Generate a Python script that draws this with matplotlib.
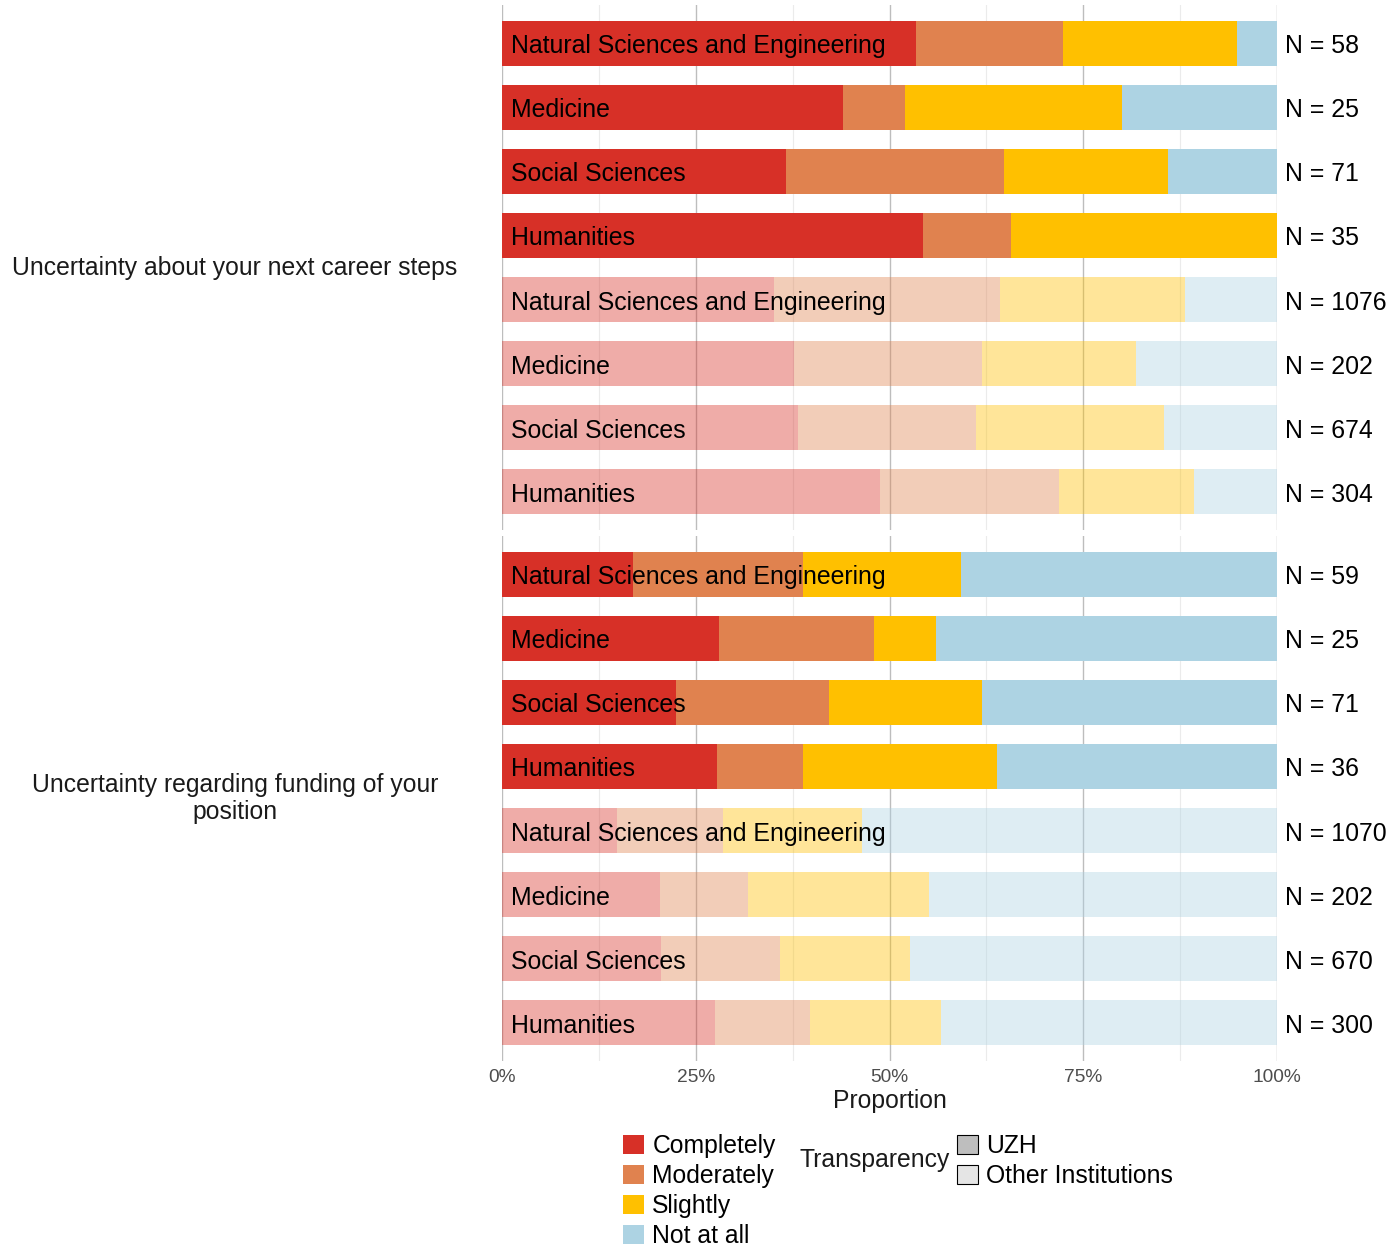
import matplotlib.pyplot as plt
from matplotlib.colors import to_rgba
from matplotlib.patches import Patch
from matplotlib.transforms import offset_copy

plt.rcParams["font.family"] = ["Liberation Sans", "DejaVu Sans"]

# -------------------------
# Data (percent of respondents)
# -------------------------

items = [
    "Uncertainty about your next career steps",
    "Uncertainty regarding funding of your\nposition",
]
fields = ["Natural Sciences and Engineering", "Medicine", "Social Sciences", "Humanities"]
institutions = ["UZH", "Other Institutions"]
levels = ["Completely", "Moderately", "Slightly", "Not at all"]

# rows: UZH (4 fields) then Other Institutions (4 fields)
career_completely = [53.4, 44.0, 36.6, 54.3, 35.1, 37.7, 38.2, 48.8]
career_moderately = [19.0, 8.0, 28.2, 11.4, 29.2, 24.2, 23.0, 23.1]
career_slightly = [22.4, 28.0, 21.1, 34.3, 23.8, 19.9, 24.2, 17.4]
career_not = [5.2, 20.0, 14.1, 0.0, 11.9, 18.2, 14.6, 10.7]
career_n = [58, 25, 71, 35, 1076, 202, 674, 304]

funding_completely = [16.9, 28.0, 22.5, 27.8, 14.8, 20.4, 20.5, 27.5]
funding_moderately = [22.0, 20.0, 19.7, 11.1, 13.7, 11.3, 15.4, 12.2]
funding_slightly = [20.3, 8.0, 19.7, 25.0, 18.0, 23.4, 16.7, 16.9]
funding_not = [40.8, 44.0, 38.1, 36.1, 53.5, 44.9, 47.4, 43.4]
funding_n = [59, 25, 71, 36, 1070, 202, 670, 300]

panels = [
    [career_completely, career_moderately, career_slightly, career_not, career_n],
    [funding_completely, funding_moderately, funding_slightly, funding_not, funding_n],
]

level_colors = ["#D73027", "#E0824F", "#FFC000", "#ADD3E3"]
inst_alpha = {"UZH": 1.0, "Other Institutions": 0.4}

row_fields = fields * 2
row_inst = [institutions[0]] * 4 + [institutions[1]] * 4

# -------------------------
# Plot
# -------------------------

W, H = 1390, 1246
fig = plt.figure(figsize=(W / 100, H / 100), dpi=100)

ax_top = fig.add_axes([502 / W, 1 - 530 / H, 775 / W, 525 / H])
ax_bot = fig.add_axes([502 / W, 1 - 1061 / H, 775 / W, 525 / H])
axes = [ax_top, ax_bot]

ypos = list(range(1, 9))
fs = 17.9

for ax, item, panel in zip(axes, items, panels):
    values = panel[:4]
    n_vals = panel[4]

    left = [0.0] * 8
    for level_vals, col in zip(values, level_colors):
        colors = [to_rgba(col, inst_alpha[inst]) for inst in row_inst]
        ax.barh(ypos, level_vals, left=left, height=0.7, color=colors, linewidth=0)
        left = [a + b for a, b in zip(left, level_vals)]

    label_tr = offset_copy(ax.transData, fig=fig, x=9, y=-3, units="dots")
    n_tr = offset_copy(ax.transData, fig=fig, x=8, y=-3, units="dots")
    for y, name, n in zip(ypos, row_fields, n_vals):
        ax.text(0, y, name, transform=label_tr, ha="left", va="center",
                fontsize=fs, color="black")
        ax.text(100, y, f"N = {n}", transform=n_tr, ha="left", va="center",
                fontsize=fs, color="black", clip_on=False)

    ax.text(-0.3445, 0.5, item, transform=ax.transAxes, ha="center", va="center",
            fontsize=17.8, color="#1A1A1A", multialignment="center", linespacing=1.12)

    ax.set_xlim(0, 100)
    ax.set_ylim(8.6, 0.4)
    ax.set_xticks([0, 25, 50, 75, 100])
    ax.set_xticks([12.5, 37.5, 62.5, 87.5], minor=True)
    ax.set_yticks([])
    ax.grid(which="major", axis="x", color="#BDBDBD", linewidth=1.0)
    ax.grid(which="minor", axis="x", color="#EBEBEB", linewidth=0.8)
    ax.set_axisbelow(True)
    for s in ax.spines.values():
        s.set_visible(False)
    ax.tick_params(which="both", length=0)

ax_top.tick_params(labelbottom=False)
ax_bot.set_xticklabels(["0%", "25%", "50%", "75%", "100%"])
ax_bot.tick_params(axis="x", labelsize=13.8, labelcolor="#4D4D4D", pad=6)
ax_bot.set_xlabel("Proportion", fontsize=17.8, color="#1A1A1A", labelpad=2)

# -------------------------
# Legends
# -------------------------

fill_handles = [Patch(facecolor=c, edgecolor="none") for c in level_colors]
fig.legend(fill_handles, levels, loc="upper left",
           bbox_to_anchor=(616 / W, 1 - 1127 / H), frameon=False,
           fontsize=17.8, handlelength=0.82, handleheight=0.82,
           handletextpad=0.35, labelspacing=0.24, borderaxespad=0, borderpad=0.3)

alpha_handles = [Patch(facecolor=to_rgba("#BEBEBE", inst_alpha[i]), edgecolor="black",
                       linewidth=0.8) for i in institutions]
fig.legend(alpha_handles, institutions, loc="upper left",
           bbox_to_anchor=(950 / W, 1 - 1127 / H), frameon=False,
           fontsize=17.8, handlelength=0.82, handleheight=0.82,
           handletextpad=0.35, labelspacing=0.24, borderaxespad=0, borderpad=0.3)
fig.text(875 / W, 1 - 1160 / H, "Transparency", ha="center", va="center",
         fontsize=17.8, color="#1A1A1A")

fig.savefig("out.png", dpi=100)
